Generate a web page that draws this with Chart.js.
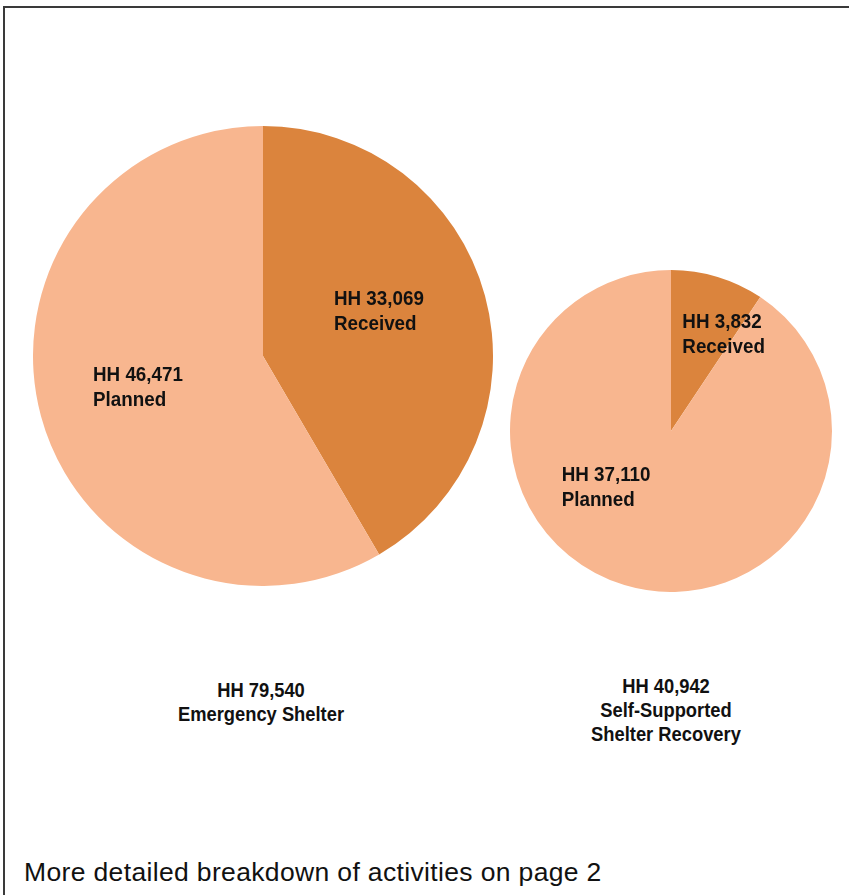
<!DOCTYPE html>
<html>
<head>
<meta charset="utf-8">
<script src="https://cdn.jsdelivr.net/npm/chart.js@4"></script>
<style>
  html, body { margin: 0; padding: 0; background: #fff; }
  #page {
    position: relative; width: 849px; height: 895px; overflow: hidden;
  }
  #frame {
    position: absolute; left: 3px; top: 6px; width: 900px; height: 950px;
    border-top: 2px solid #3a3a3a; border-left: 2px solid #3a3a3a;
  }
  canvas { position: absolute; }
  #pie1 { left: 33px; top: 126px; }
  #pie2 { left: 510px; top: 270px; }
  .cap {
    position: absolute; text-align: center; color: #111;
    font: bold 19.5px "Liberation Sans", Arial, sans-serif;
    line-height: 24px; transform: scaleX(0.94); transform-origin: 50% 0;
  }
  #cap1 { left: 161px; width: 200px; top: 678px; }
  #cap2 { left: 566px; width: 200px; top: 674px; }
  #foot {
    position: absolute; left: 24px; top: 857px; color: #111;
    font: 26.5px "Liberation Sans", Arial, sans-serif; letter-spacing: 0.35px;
    white-space: nowrap;
  }
</style>
</head>
<body>
<div id="page">
  <div id="frame"></div>
  <canvas id="pie1" width="460" height="460"></canvas>
  <canvas id="pie2" width="322" height="322"></canvas>
  <div class="cap" id="cap1"></div>
  <div class="cap" id="cap2"></div>
  <div id="foot">More detailed breakdown of activities on page 2</div>
</div>
<script>
// categories and values
const categories = ["Received", "Planned"];
const emergencyValues = [33069, 46471];
const selfSupportedValues = [3832, 37110];
const emergencyTitle = ["HH 79,540", "Emergency Shelter"];
const selfSupportedTitle = ["HH 40,942", "Self-Supported", "Shelter Recovery"];
const sliceColors = ["#DB843D", "#F8B68F"];

document.getElementById("cap1").innerHTML = emergencyTitle.join("<br>");
document.getElementById("cap2").innerHTML = selfSupportedTitle.join("<br>");

const fmt = n => n.toLocaleString("en-US");

// text inside the slices, placed from each arc's centre point
const sliceLabels = {
    id: "sliceLabels",
    afterDatasetsDraw(chart, args, opts) {
        const ctx = chart.ctx;
        const arcs = chart.getDatasetMeta(0).data;
        const values = chart.data.datasets[0].data;
        ctx.save();
        ctx.fillStyle = "#111";
        ctx.font = 'bold 20px "Liberation Sans", Arial, sans-serif';
        ctx.textAlign = "left";
        ctx.textBaseline = "middle";
        arcs.forEach((arc, i) => {
            const p = arc.getCenterPoint();
            const off = opts.offsets[i];
            ctx.save();
            ctx.translate(p.x + off[0], p.y + off[1]);
            ctx.scale(0.94, 1);
            ctx.fillText("HH " + fmt(values[i]), 0, 0);
            ctx.fillText(chart.data.labels[i], 0, 25);
            ctx.restore();
        });
        ctx.restore();
    }
};

function makePie(id, values, offsets) {
    return new Chart(document.getElementById(id), {
        type: "pie",
        data: {
            labels: categories,
            datasets: [{
                data: values,
                backgroundColor: sliceColors,
                borderWidth: 0
            }]
        },
        options: {
            responsive: false,
            animation: false,
            layout: { padding: 0 },
            plugins: {
                legend: { display: false },
                tooltip: { enabled: false },
                sliceLabels: { offsets: offsets }
            }
        },
        plugins: [sliceLabels]
    });
}

makePie("pie1", emergencyValues, [[-40, -26], [-59, -11]]);
makePie("pie2", selfSupportedValues, [[-12, -31], [-86, -33]]);
</script>
</body>
</html>
